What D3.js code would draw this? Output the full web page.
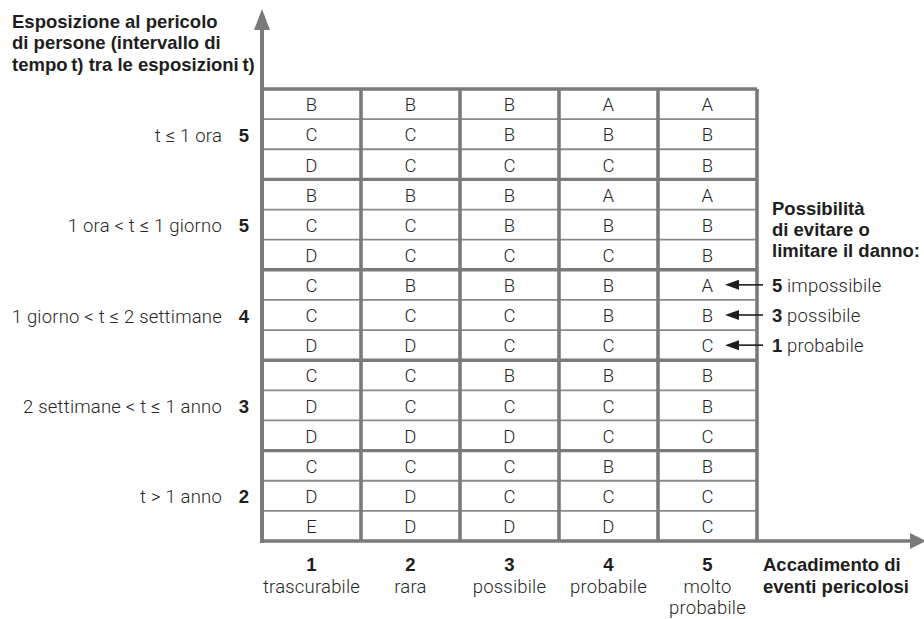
<!DOCTYPE html>
<html><head><meta charset="utf-8">
<script src="https://cdn.jsdelivr.net/npm/d3@7"></script>
<style>
body{margin:0;background:#fff;}
svg{display:block;}
.lt{font-family:Roboto,"Liberation Sans",sans-serif;font-weight:300;fill:#262626;letter-spacing:0.2px;}
.bd{font-family:"Liberation Sans",Arial,sans-serif;font-weight:bold;fill:#1e1e1e;}
</style></head><body>
<script>
const columns = ["1","2","3","4","5"];
const columnNames = [["trascurabile"],["rara"],["possibile"],["probabile"],["molto","probabile"]];
const groupLabels = ["t ≤ 1 ora","1 ora < t ≤ 1 giorno","1 giorno < t ≤ 2 settimane","2 settimane < t ≤ 1 anno","t > 1 anno"];
const groupScores = ["5","5","4","3","2"];
const avoidScores = ["5","3","1"];
const avoidNames = ["impossibile","possibile","probabile"];
const matrix = [
  ["B","B","B","A","A"],["C","C","B","B","B"],["D","C","C","C","B"],
  ["B","B","B","A","A"],["C","C","B","B","B"],["D","C","C","C","B"],
  ["C","B","B","B","A"],["C","C","C","B","B"],["D","D","C","C","C"],
  ["C","C","B","B","B"],["D","C","C","C","B"],["D","D","D","C","C"],
  ["C","C","C","B","B"],["D","D","C","C","C"],["E","D","D","D","C"]
];
const yTitle = ["Esposizione al pericolo","di persone (intervallo di","tempo\u2009t) tra le esposizioni\u2009t)"];
const xTitle = ["Accadimento di","eventi pericolosi"];
const sideTitle = ["Possibilità","di evitare o","limitare il danno:"];

const W=924,H=619;
const FS=18.5;
const svg=d3.select("body").append("svg").attr("width",W).attr("height",H);
const gx0=262,gx1=757,gy0=89,gy1=541;
const x=d3.scaleBand().domain(columns).range([gx0,gx1]);
const rowIdx=d3.range(matrix.length);
const y=d3.scaleBand().domain(rowIdx).range([gy0,gy1]);
const gy=d3.scaleBand().domain(d3.range(groupLabels.length)).range([gy0,gy1]);
const lineC="#7a7a7a";

// thin row lines
svg.append("g").selectAll("line").data(rowIdx.filter(i=>i%3!==0)).join("line")
  .attr("x1",gx0).attr("x2",gx1).attr("y1",i=>y(i)).attr("y2",i=>y(i))
  .attr("stroke","#8a8a8a").attr("stroke-width",1.8);
// group lines
svg.append("g").selectAll("line").data(d3.range(groupLabels.length)).join("line")
  .attr("x1",gx0).attr("x2",gx1).attr("y1",i=>gy(i)).attr("y2",i=>gy(i))
  .attr("stroke",lineC).attr("stroke-width",3.4);
// column lines
svg.append("g").selectAll("line").data(columns.slice(1).concat(["end"])).join("line")
  .attr("x1",d=>d==="end"?gx1:x(d)).attr("x2",d=>d==="end"?gx1:x(d))
  .attr("y1",gy0).attr("y2",gy1)
  .attr("stroke",lineC).attr("stroke-width",3.6);

// axes
svg.append("line").attr("x1",gx0).attr("x2",gx0).attr("y1",28).attr("y2",gy1+2).attr("stroke",lineC).attr("stroke-width",4);
svg.append("path").attr("d",`M${gx0},9 L${gx0-8},30 L${gx0+8},30 Z`).attr("fill",lineC);
svg.append("line").attr("x1",gx0).attr("x2",912).attr("y1",gy1).attr("y2",gy1).attr("stroke",lineC).attr("stroke-width",3.6);
svg.append("path").attr("d",`M926,${gy1} L910,${gy1-8} L910,${gy1+8} Z`).attr("fill",lineC);

// cell letters
const cells=[];
matrix.forEach((r,i)=>r.forEach((v,j)=>cells.push({r:i,c:columns[j],v})));
svg.append("g").selectAll("text").data(cells).join("text").attr("class","lt")
  .attr("x",d=>x(d.c)+x.bandwidth()/2).attr("y",d=>y(d.r)+y.bandwidth()/2+7.2)
  .attr("text-anchor","middle").attr("font-size",FS).text(d=>d.v);

// group labels
const gl=svg.append("g");
groupLabels.forEach((t,i)=>{
  const cy=gy(i)+gy.bandwidth()/2+7.5;
  gl.append("text").attr("class","lt").attr("x",222).attr("y",cy).attr("text-anchor","end")
    .attr("font-size",FS).text(t);
  gl.append("text").attr("class","bd").attr("x",249).attr("y",cy).attr("text-anchor","end")
    .attr("font-size",FS).text(groupScores[i]);
});

// column labels
columns.forEach((c,i)=>{
  const cx=x(c)+x.bandwidth()/2;
  svg.append("text").attr("class","bd").attr("x",cx).attr("y",571).attr("text-anchor","middle").attr("font-size",FS).text(c);
  columnNames[i].forEach((t,k)=>svg.append("text").attr("class","lt").attr("x",cx).attr("y",592.5+k*21.5).attr("text-anchor","middle").attr("font-size",FS).text(t));
});

// titles
yTitle.forEach((t,k)=>svg.append("text").attr("class","bd").attr("x",12).attr("y",27.5+k*21.7).attr("font-size",FS).text(t));
xTitle.forEach((t,k)=>svg.append("text").attr("class","bd").attr("x",763).attr("y",571+k*21.5).attr("font-size",FS).text(t));
sideTitle.forEach((t,k)=>svg.append("text").attr("class","bd").attr("x",772).attr("y",214.5+k*21.2).attr("font-size",FS).text(t));

// avoidance arrows (rows 7,8,9 -> group 3)
avoidScores.forEach((s,k)=>{
  const cy=y(6+k)+y.bandwidth()/2;
  svg.append("line").attr("x1",736).attr("x2",763).attr("y1",cy).attr("y2",cy).attr("stroke","#1e1e1e").attr("stroke-width",1.6);
  svg.append("path").attr("d",`M725,${cy} L739,${cy-5} L739,${cy+5} Z`).attr("fill","#1e1e1e");
  const t=svg.append("text").attr("x",772).attr("y",cy+7).attr("font-size",FS);
  t.append("tspan").attr("class","bd").text(s);
  t.append("tspan").attr("class","lt").text(" "+avoidNames[k]);
});
</script></body></html>
